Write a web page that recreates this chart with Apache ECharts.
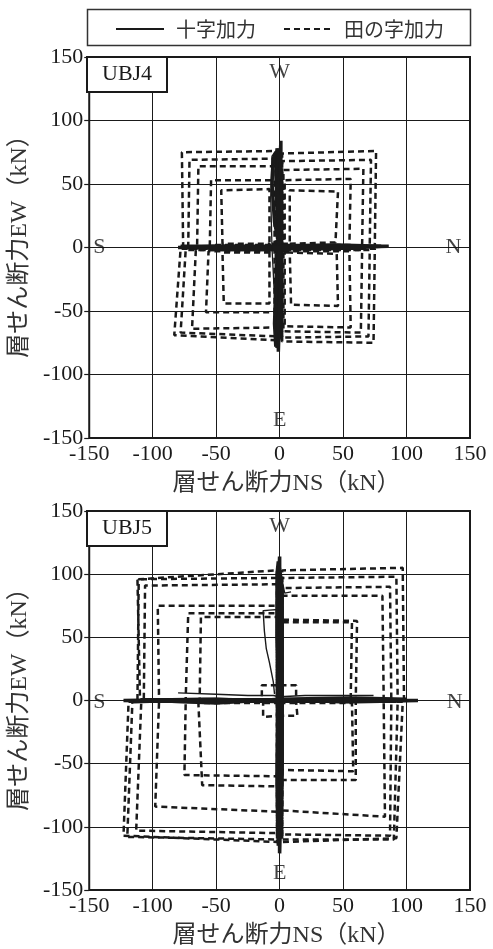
<!DOCTYPE html>
<html>
<head>
<meta charset="utf-8">
<script src="https://cdn.jsdelivr.net/npm/echarts@6/dist/echarts.min.js"></script>
<style>
html,body{margin:0;padding:0;background:#fff;}
#chart{width:493px;height:949px;}
</style>
</head>
<body>
<div id="chart"></div>
<script>
// ---------- labels ----------
const legendNames = ['十字加力', '田の字加力'];
const panelNames = ['UBJ4', 'UBJ5'];
const xAxisName = '層せん断力NS（kN）';
const yAxisName = '層せん断力EW（kN）';
const axisMin = -150, axisMax = 150, axisStep = 50;
const compass4 = [[0, 138, 'W'], [0, -136, 'E'], [-142, 0, 'S'], [137, 0, 'N']];
const compass5 = [[0, 138, 'W'], [0, -137, 'E'], [-142, -1, 'S'], [138, -1, 'N']];

// ---------- UBJ4 : 田の字加力 (dashed) ----------
const ubj4Dash1 = [[8,3],[44,4],[46,44],[8,45],[8,3],[-8,3],[-8,46],[-46,45],[-45,3],[-8,3],
  [-8,-4],[-45,-4],[-44,-44],[-8,-44],[-8,-4],[8,-4],[9,-45],[46,-46],[45,-5],[8,-4]];
const ubj4Dash2 = [[4,2],[55,2],[56,54],[4,53],[4,2],[-4,2],[-4,53],[-54,53],[-55,2],[-4,2],
  [-4,-3],[-56,-3],[-58,-51],[-4,-51],[-4,-3],[4,-3],[4,-62],[56,-63],[55,-3],[4,-3]];
const ubj4Dash3 = [[3,1],[65,1],[66,62],[3,61],[3,1],[-3,1],[-3,64],[-64,64],[-65,1],[-3,1],
  [-3,-2],[-66,-2],[-69,-64],[-3,-63],[-3,-2],[3,-2],[3,-66],[64,-67],[65,-2],[3,-2]];
const ubj4Dash4 = [[2,1],[71,1],[72,69],[2,68],[2,1],[-2,1],[-2,70],[-71,69],[-72,1],[-2,1],
  [-2,-2],[-74,-2],[-78,-67],[-2,-70],[-2,-2],[2,-2],[2,-71],[70,-70],[71,-2],[2,-2]];
const ubj4Dash5 = [[2,1],[75,1],[76,76],[2,74],[2,1],[-2,1],[-2,76],[-77,75],[-76,1],[-2,1],
  [-2,-1],[-78,-1],[-83,-69],[-2,-73],[-2,-1],[2,-1],[2,-74],[74,-75],[75,-1],[2,-1]];

// ---------- UBJ4 : 十字加力 (solid) ----------
const ubj4Solid1 = [[0,0],[1,25],[1,55],[1,84],[0,60],[-1,30],[-1,0],[-1,-30],[-1,-60],[-1,-82],[0,-50],[1,-20],[0,0]];
const ubj4Solid2 = [[0,0],[-2,30],[-3,60],[-2,78],[0,70],[1,40],[1,0],[1,-40],[0,-70],[-2,-79],[-3,-50],[-2,-10],[0,0]];
const ubj4Solid3 = [[0,0],[-4,20],[-6,50],[-5,70],[-3,75],[-1,40],[0,0],[-3,-30],[-4,-60],[-3,-78],[-1,-60],[1,-30],[0,0]];
const ubj4Solid4 = [[0,0],[40,1],[86,1],[50,0],[0,0],[-40,0],[-80,0],[-50,1],[0,1]];
const ubj4Solid5 = [[0,1],[45,2],[80,1],[40,-1],[0,-1],[-45,-1],[-78,1],[-40,1],[0,0]];
const ubj4Thin1 = [[-2,-76],[-4,-40],[-6,0],[-7,40],[-6,72],[-3,76],[-2,50]];

// ---------- UBJ5 : 田の字加力 (dashed) ----------
const ubj5Dash1 = [[1,0],[13,0],[13,12],[1,12],[1,0],[-1,0],[-1,12],[-14,12],[-14,0],[-1,0],
  [-1,-1],[-13,-1],[-13,-13],[-1,-12],[-1,-1],[1,-1],[1,-12],[14,-12],[13,-1],[1,-1]];
const ubj5Dash2 = [[2,1],[60,1],[61,63],[2,64],[2,1],[-2,1],[-2,69],[-72,69],[-74,1],[-2,1],
  [-2,-1],[-74,-1],[-75,-59],[-2,-60],[-2,-1],[2,-1],[2,-63],[60,-63],[60,-1],[2,-1]];
const ubj5Dash3 = [[2,0],[56,0],[57,62],[2,62],[2,0],[-2,0],[-2,66],[-62,66],[-63,0],[-2,0],
  [-2,-2],[-64,-2],[-61,-67],[-2,-68],[-2,-2],[2,-2],[2,-55],[58,-56],[57,-2],[2,-2]];
const ubj5Dash4 = [[2,1],[82,1],[81,83],[2,83],[2,1],[-2,1],[-2,75],[-96,75],[-95,1],[-2,1],
  [-2,-1],[-95,-1],[-98,-84],[-2,-88],[-2,-1],[2,-1],[2,-87],[83,-92],[82,-1],[2,-1]];
const ubj5Dash5 = [[2,1],[88,1],[87,90],[2,89],[2,1],[-2,1],[-2,92],[-106,91],[-107,1],[-2,1],
  [-2,-1],[-109,-1],[-113,-103],[-2,-105],[-2,-1],[2,-1],[2,-106],[87,-107],[88,-1],[2,-1]];
const ubj5Dash6 = [[2,1],[93,1],[92,98],[2,97],[2,1],[-2,1],[-2,97],[-112,96],[-110,1],[-2,1],
  [-2,-1],[-116,-1],[-120,-108],[-2,-110],[-2,-1],[2,-1],[2,-110],[90,-110],[93,-1],[2,-1]];
const ubj5Dash7 = [[2,1],[98,1],[97,105],[2,103],[2,1],[-2,1],[-2,103],[-111,96],[-112,1],[-2,1],
  [-2,-1],[-119,-1],[-123,-107],[-2,-112],[-2,-1],[2,-1],[2,-112],[92,-109],[97,-1],[2,-1]];

// ---------- UBJ5 : 十字加力 (solid) ----------
const ubj5Solid1 = [[0,0],[1,40],[0,80],[0,114],[-1,80],[-1,40],[-1,0],[-1,-40],[0,-80],[0,-121],[1,-80],[1,-40],[0,0]];
const ubj5Solid2 = [[0,0],[-2,50],[-2,100],[-1,110],[2,90],[2,50],[2,0],[2,-50],[1,-100],[-1,-115],[-2,-60],[-1,0]];
const ubj5Solid3 = [[0,0],[50,0],[109,0],[60,-1],[0,0],[-60,-1],[-123,0],[-60,1],[0,0]];
const ubj5Solid4 = [[0,1],[55,2],[100,1],[50,-1],[0,1],[-50,-2],[-100,0],[-115,-1],[-50,1],[0,-1]];
const ubj5Thin1 = [[-80,6],[-50,5],[-25,4],[-5,4],[0,3],[20,4],[50,4],[74,4]];
const ubj5Thin2 = [[-4,5],[-5,15],[-8,30],[-10.5,41],[-12,55],[-13,71],[-8,71.5],[-1,72]];
const ubj5Thin3 = [[1,96],[3,90],[4,85],[9,86]];

// ---------- build ----------
const serif = "'Liberation Serif','Noto Sans CJK JP'";
const ink = '#1a1a1a';

function dashSeries(data, gi) {
  return { name: legendNames[1], type: 'line', xAxisIndex: gi, yAxisIndex: gi, data: data,
    symbol: 'none', showSymbol: false, z: 2, animation: false, silent: true,
    lineStyle: { color: ink, width: 2.5, type: [6, 4] }, itemStyle: { color: ink } };
}
function solidSeries(data, gi, w) {
  return { name: legendNames[0], type: 'line', xAxisIndex: gi, yAxisIndex: gi, data: data,
    symbol: 'none', showSymbol: false, z: 3, animation: false, silent: true,
    lineStyle: { color: ink, width: w, type: 'solid' }, itemStyle: { color: ink } };
}
function compassSeries(data, gi) {
  return { type: 'scatter', xAxisIndex: gi, yAxisIndex: gi, data: data, symbolSize: 0,
    z: 4, silent: true, animation: false,
    label: { show: true, position: 'inside', formatter: p => p.value[2],
      fontFamily: serif, fontSize: 22, color: '#111' } };
}
function mkX(gi) {
  return { type: 'value', gridIndex: gi, min: axisMin, max: axisMax, interval: axisStep,
    axisLine: { show: false, onZero: false }, axisTick: { show: false },
    splitLine: { show: true, lineStyle: { color: ink, width: 1 } },
    axisLabel: { fontFamily: serif, fontSize: 22, color: ink, margin: 5 },
    name: xAxisName, nameLocation: 'middle', nameGap: 34,
    nameTextStyle: { fontFamily: serif, fontSize: 24, color: '#333', padding: [0, 0, 0, 14] } };
}
function mkY(gi) {
  return { type: 'value', gridIndex: gi, min: axisMin, max: axisMax, interval: axisStep,
    axisLine: { show: false, onZero: false },
    axisTick: { show: true, length: 5, lineStyle: { color: ink, width: 1.2 } },
    splitLine: { show: true, lineStyle: { color: ink, width: 1 } },
    axisLabel: { fontFamily: serif, fontSize: 22, color: ink, margin: 6 },
    name: yAxisName, nameLocation: 'middle', nameGap: 41,
    nameTextStyle: { fontFamily: serif, fontSize: 24, color: '#333', padding: [0, 0, 0, 14] } };
}

const series = [];
[ubj4Dash1, ubj4Dash2, ubj4Dash3, ubj4Dash4, ubj4Dash5].forEach(d => series.push(dashSeries(d, 0)));
[ubj5Dash1, ubj5Dash2, ubj5Dash3, ubj5Dash4, ubj5Dash5, ubj5Dash6, ubj5Dash7].forEach(d => series.push(dashSeries(d, 1)));
[ubj4Solid1, ubj4Solid2, ubj4Solid3, ubj4Solid4, ubj4Solid5].forEach(d => series.push(solidSeries(d, 0, 3.5)));
series.push(solidSeries(ubj4Thin1, 0, 1.3));
[ubj5Solid1, ubj5Solid2, ubj5Solid3, ubj5Solid4].forEach(d => series.push(solidSeries(d, 1, 3.6)));
[ubj5Thin1, ubj5Thin2, ubj5Thin3].forEach(d => series.push(solidSeries(d, 1, 1.4)));
series.push(compassSeries(compass4, 0));
series.push(compassSeries(compass5, 1));

const chart = echarts.init(document.getElementById('chart'), null, { renderer: 'canvas' });
chart.setOption({
  animation: false,
  backgroundColor: '#fff',
  legend: {
    data: legendNames, left: 110, top: 14, itemWidth: 48, itemHeight: 14, itemGap: 27,
    itemStyle: { opacity: 0, color: 'transparent', borderWidth: 0 },
    textStyle: { fontFamily: "'Noto Sans CJK JP'", fontSize: 20, color: '#333', padding: [0, 0, 0, 7] },
    selectedMode: false
  },
  graphic: [{ type: 'rect', left: 85, top: 7, shape: { width: 383, height: 36 },
    style: { fill: 'none', stroke: '#333', lineWidth: 1.5 }, z: 10 }],
  title: panelNames.map((t, i) => ({
    text: t, left: 87, top: i === 0 ? 57 : 511, padding: [6, 15, 7, 15],
    borderWidth: 2, borderColor: ink, backgroundColor: '#fff',
    textStyle: { fontFamily: serif, fontSize: 22, fontWeight: 'normal', color: ink }
  })),
  grid: [
    { left: 87, top: 57, width: 383, height: 381, show: true, borderColor: ink, borderWidth: 2, backgroundColor: 'transparent' },
    { left: 87, top: 511, width: 383, height: 382, show: true, borderColor: ink, borderWidth: 2, backgroundColor: 'transparent' }
  ],
  xAxis: [mkX(0), mkX(1)],
  yAxis: [mkY(0), mkY(1)],
  series: series
});
</script>
</body>
</html>
